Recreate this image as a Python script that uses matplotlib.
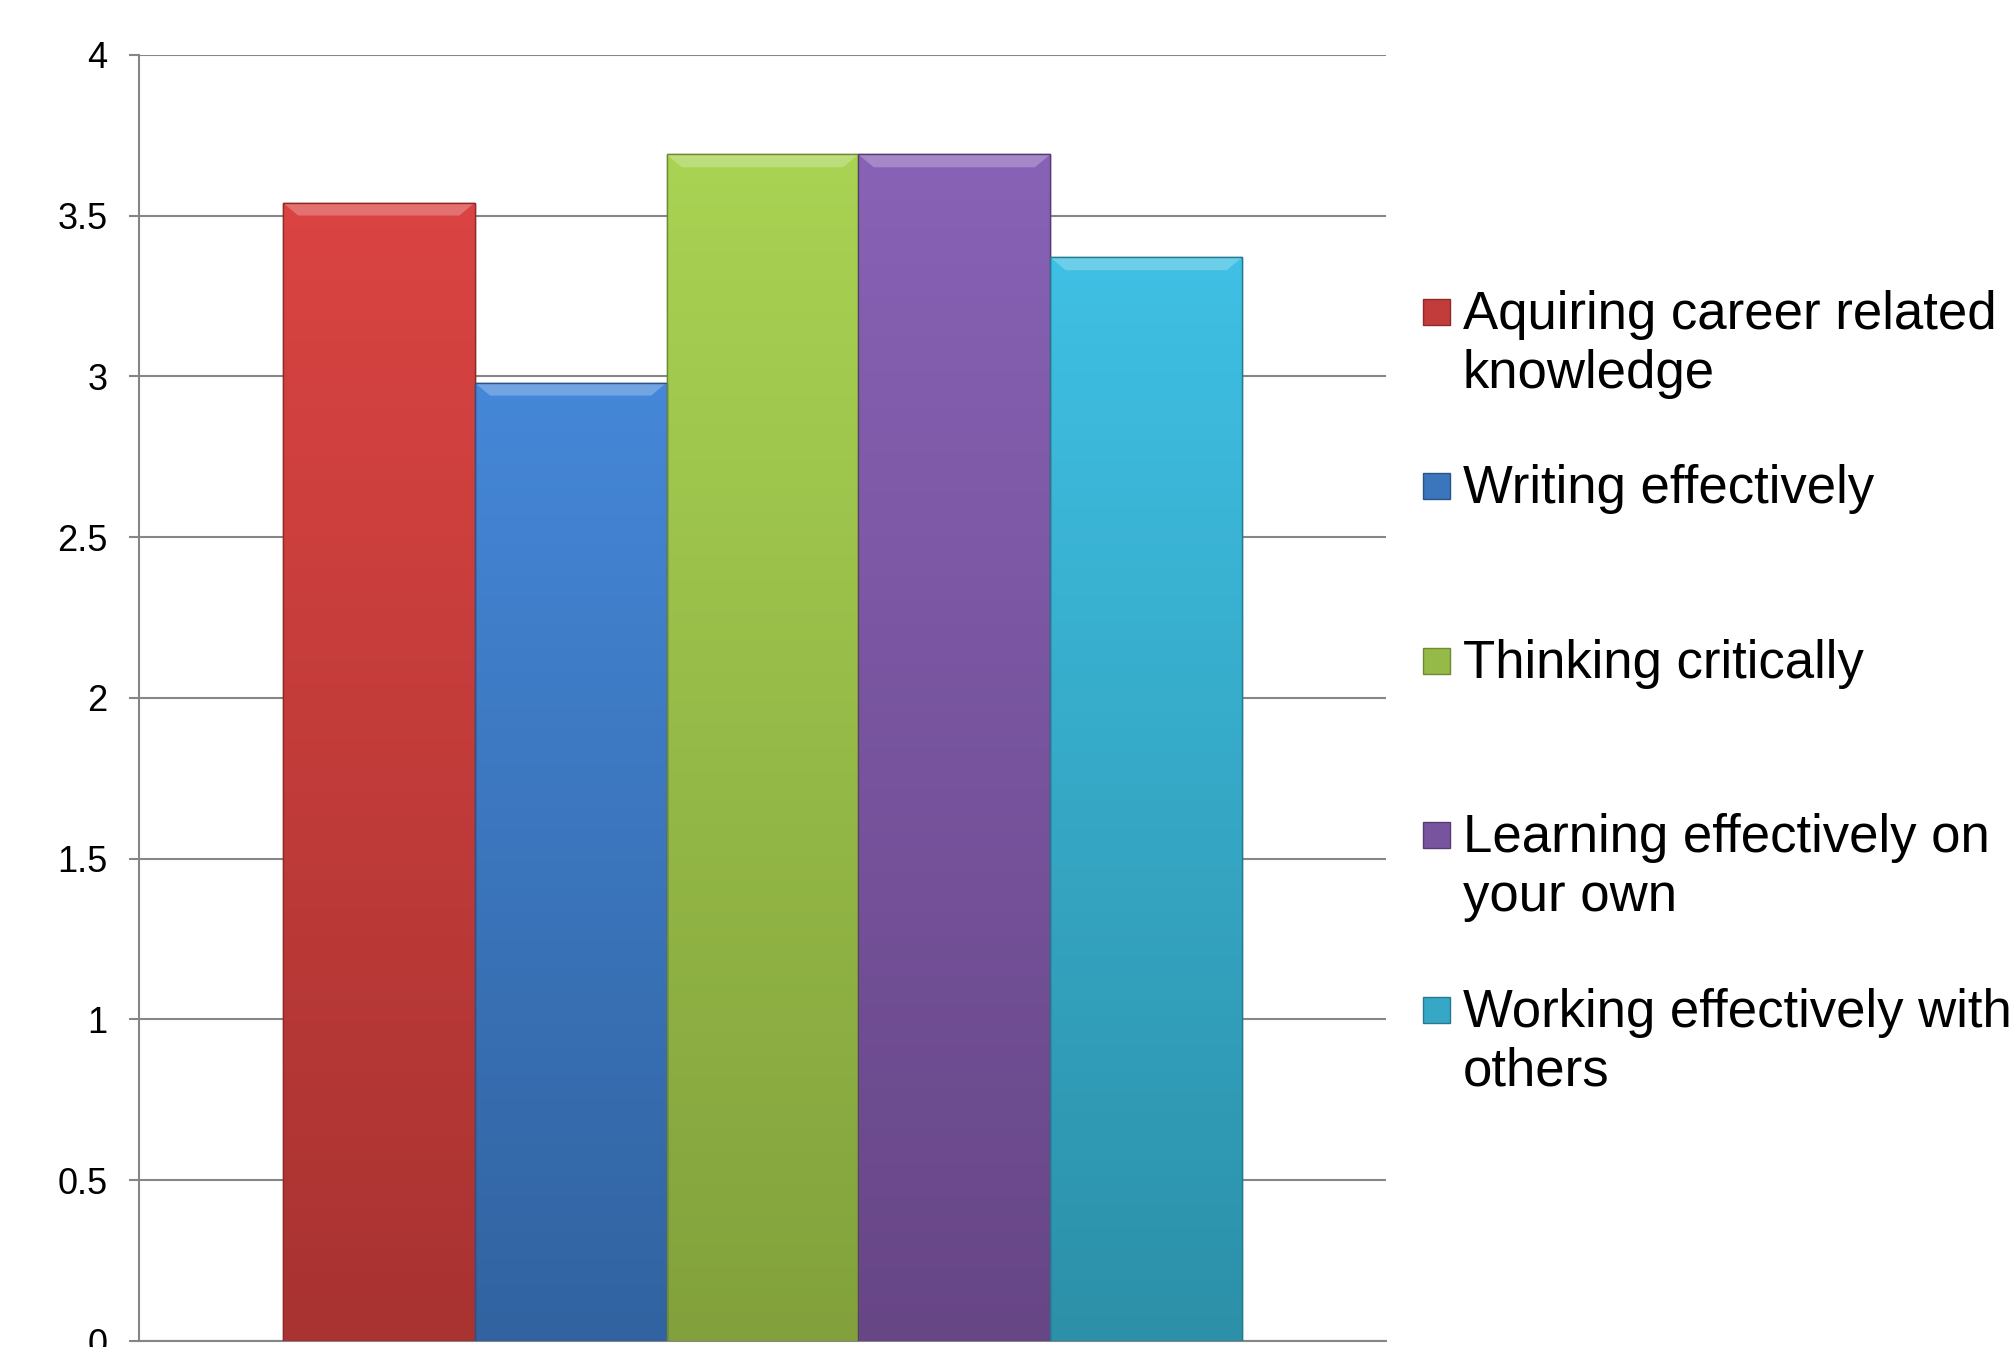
import numpy as np
import matplotlib
matplotlib.use("Agg")
import matplotlib.pyplot as plt
from matplotlib.colors import to_rgb
from matplotlib.patches import Rectangle, Polygon

# Chart data
categories = ["Aquiring career related\nknowledge",
              "Writing effectively",
              "Thinking critically",
              "Learning effectively on\nyour own",
              "Working effectively with\nothers"]
values = [3.54, 2.98, 3.69, 3.69, 3.37]
y_ticks = [0, 0.5, 1, 1.5, 2, 2.5, 3, 3.5, 4]
tick_labels = ["0", "0.5", "1", "1.5", "2", "2.5", "3", "3.5", "4"]

# colours: top and bottom of the gradient on each bar
top_colors = ["#DA4442", "#4587D8", "#A9D353", "#8862B6", "#3FC0E4"]
bottom_colors = ["#A83331", "#3163A0", "#82A13C", "#674686", "#2C90A8"]
edge_colors = ["#8E2B29", "#2A5489", "#6F8A33", "#573B72", "#257A90"]

plt.rcParams['font.family'] = ['Liberation Sans', 'DejaVu Sans']

fig = plt.figure(figsize=(20.11, 13.47), dpi=100)
ax = fig.add_axes([0.0691, 0.00445, 0.6201, 0.9549])

n = len(values)
xpos = np.arange(n) - (n - 1) / 2
bars = ax.bar(xpos, values, width=1.0, color=bottom_colors,
              edgecolor=edge_colors, linewidth=1.0, zorder=3)

# vertical gradient inside every bar
for bar, c_top, c_bot in zip(bars, top_colors, bottom_colors):
    x0 = bar.get_x()
    w = bar.get_width()
    h = bar.get_height()
    t = np.linspace(0, 1, 256)[:, None]
    grad = (1 - t) * np.array(to_rgb(c_top)) + t * np.array(to_rgb(c_bot))
    grad = grad[:, None, :]
    im = ax.imshow(grad, extent=[x0, x0 + w, 0, h], aspect='auto',
                   zorder=3.5, origin='upper')
    im.set_clip_path(bar)
    # light bevel along the top
    hl = tuple(min(1, v * 0.55 + 0.45) for v in to_rgb(c_top))
    ax.add_patch(Polygon([(x0, h), (x0 + w, h), (x0 + w - 0.08, h - 0.04),
                          (x0 + 0.08, h - 0.04)], closed=True,
                         facecolor=hl, edgecolor='none', alpha=0.55, zorder=4))
    ax.add_patch(Rectangle((x0, 0), w, h, facecolor='none',
                           edgecolor=bar.get_edgecolor(), linewidth=1.0, zorder=4.5))

ax.set_xlim(-3.25, 3.25)
ax.set_ylim(0, 4)
ax.set_yticks(y_ticks)
ax.set_yticklabels(tick_labels)
ax.set_xticks([])

ax.yaxis.grid(True, color='#868686', linewidth=1.5, zorder=0)
ax.set_axisbelow(True)
for side in ['top', 'right']:
    ax.spines[side].set_visible(False)
ax.spines['left'].set_color('#868686')
ax.spines['left'].set_linewidth(1.5)
ax.spines['bottom'].set_color('#868686')
ax.spines['bottom'].set_linewidth(1.5)
ax.tick_params(axis='y', direction='out', length=7.5, width=1.5,
               color='#868686', labelsize=26, pad=15, labelcolor='black')

# legend, drawn by hand so every entry gets the same slot height
W, H = 2011, 1347
legend_top = 312
legend_step = 174.4
line_gap = 59
for i, (label, c_top, c_bot, c_edge) in enumerate(zip(categories, top_colors,
                                                      bottom_colors, edge_colors)):
    yc = legend_top + i * legend_step
    mid = tuple((a + b) / 2 for a, b in zip(to_rgb(c_top), to_rgb(c_bot)))
    fig.add_artist(Rectangle((1423 / W, 1 - (yc + 13) / H), 27 / W, 26 / H,
                             transform=fig.transFigure, facecolor=mid,
                             edgecolor=c_edge, linewidth=1.0))
    for k, line in enumerate(label.split("\n")):
        fig.text(1463 / W, 1 - (yc + 17 + k * line_gap) / H, line, fontsize=38,
                 va='baseline', ha='left', color='black')

fig.savefig("out.png", dpi=100)
